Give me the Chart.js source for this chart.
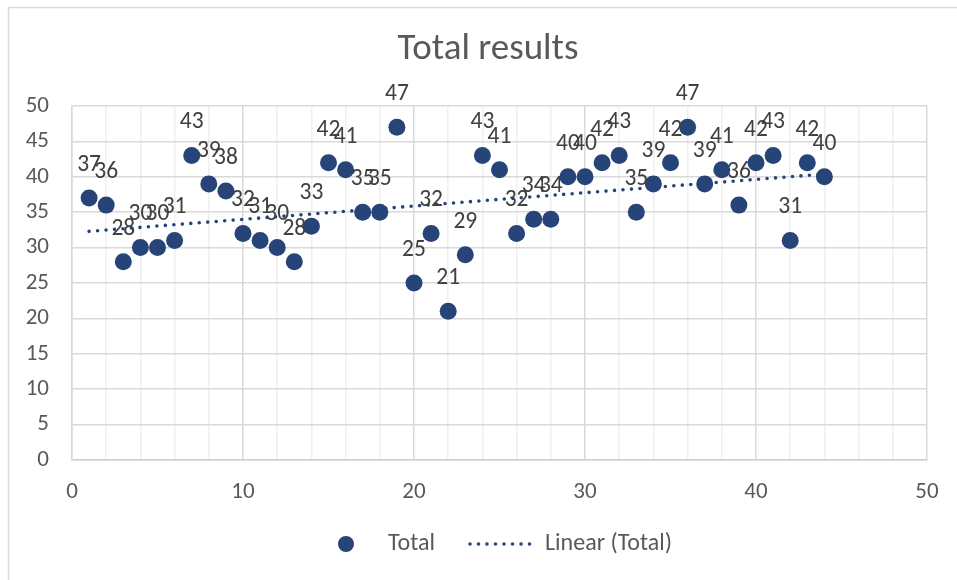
<!DOCTYPE html>
<html>
<head>
<meta charset="utf-8">
<title>Total results</title>
<script src="https://cdn.jsdelivr.net/npm/chart.js@4.4.1/dist/chart.umd.min.js"></script>
<style>
  html, body { margin: 0; padding: 0; background: #fff; }
  #wrap { position: relative; width: 957px; height: 580px; }
</style>
</head>
<body>
<div id="wrap"><canvas id="resultsChart" width="957" height="580"></canvas></div>
<script>
// data
var students = [1, 2, 3, 4, 5, 6, 7, 8, 9, 10, 11, 12, 13, 14, 15, 16, 17, 18, 19, 20, 21, 22,
                23, 24, 25, 26, 27, 28, 29, 30, 31, 32, 33, 34, 35, 36, 37, 38, 39, 40, 41, 42, 43, 44];
var totals = [37, 36, 28, 30, 30, 31, 43, 39, 38, 32, 31, 30, 28, 33, 42, 41, 35, 35, 47, 25, 32, 21,
              29, 43, 41, 32, 34, 34, 40, 40, 42, 43, 35, 39, 42, 47, 39, 41, 36, 42, 43, 31, 42, 40];
var xTicks = [0, 10, 20, 30, 40, 50];
var yTicks = [0, 5, 10, 15, 20, 25, 30, 35, 40, 45, 50];

var FONT = 'Carlito, Lato, "Open Sans", sans-serif';
var BLUE = '#264478';
var GREY_TEXT = '#595959';

// least squares trend line, like Excel's "Linear" trendline
function linearFit(xs, ys) {
    var n = xs.length, sx = 0, sy = 0, sxy = 0, sxx = 0;
    for (var i = 0; i < n; i++) {
        sx += xs[i]; sy += ys[i]; sxy += xs[i] * ys[i]; sxx += xs[i] * xs[i];
    }
    var slope = (n * sxy - sx * sy) / (n * sxx - sx * sx);
    return { slope: slope, icpt: (sy - slope * sx) / n };
}
var fit = linearFit(students, totals);
var xFirst = students[0], xLast = students[students.length - 1];
var trendPoints = [
    { x: xFirst, y: fit.icpt + fit.slope * xFirst },
    { x: xLast, y: fit.icpt + fit.slope * xLast }
];

var scatterPoints = students.map(function(s, i) { return { x: s, y: totals[i] }; });

// frame, title, data labels and legend the way Excel draws them
var excelBits = {
    id: 'excelBits',
    beforeDraw: function(chart) {
        var c = chart.ctx;
        c.save();
        c.fillStyle = '#fff';
        c.fillRect(0, 0, chart.width, chart.height);
        c.strokeStyle = '#d9d9d9';
        c.lineWidth = 1.5;
        c.strokeRect(8.5, 7.5, chart.width + 10, chart.height + 10);
        c.restore();
    },
    afterDatasetsDraw: function(chart) {
        var c = chart.ctx;
        var meta = chart.getDatasetMeta(0);
        c.save();
        c.font = '23.5px ' + FONT;
        c.fillStyle = '#404040';
        c.textAlign = 'center';
        c.textBaseline = 'middle';
        meta.data.forEach(function(pt, i) {
            c.fillText(String(totals[i]), pt.x, pt.y - 33);
        });
        c.restore();
    },
    afterDraw: function(chart) {
        var c = chart.ctx;
        c.save();
        // title
        c.font = '37px ' + FONT;
        c.fillStyle = GREY_TEXT;
        c.textAlign = 'center';
        c.textBaseline = 'middle';
        c.fillText('Total results', 488, 50);

        // legend
        var ly = 544;
        c.fillStyle = BLUE;
        c.beginPath();
        c.arc(346, ly, 8, 0, Math.PI * 2);
        c.fill();
        c.setLineDash([0, 8.5]);
        c.lineCap = 'round';
        c.lineWidth = 3.6;
        c.strokeStyle = BLUE;
        c.beginPath();
        c.moveTo(470, ly);
        c.lineTo(538, ly);
        c.stroke();
        c.setLineDash([]);
        c.font = '24px ' + FONT;
        c.fillStyle = GREY_TEXT;
        c.textAlign = 'left';
        c.fillText('Total', 388, ly);
        c.fillText('Linear (Total)', 545, ly);
        c.restore();
    }
};

var ctx = document.getElementById('resultsChart').getContext('2d');
var resultsChart = new Chart(ctx, {
    type: 'scatter',
    data: {
        datasets: [{
            label: 'Total',
            data: scatterPoints,
            backgroundColor: BLUE,
            borderColor: BLUE,
            pointRadius: 8.5,
            pointHoverRadius: 8.5,
            borderWidth: 0,
            order: 1
        }, {
            label: 'Linear (Total)',
            type: 'line',
            data: trendPoints,
            borderColor: BLUE,
            borderWidth: 3.6,
            borderDash: [0, 8.5],
            borderCapStyle: 'round',
            pointRadius: 0,
            fill: false,
            order: 2
        }]
    },
    options: {
        responsive: false,
        animation: false,
        layout: { padding: { top: 106, left: 0, right: 30, bottom: 80 } },
        plugins: {
            legend: { display: false },
            title: { display: false },
            tooltip: { enabled: false }
        },
        scales: {
            x: {
                type: 'linear',
                min: 0,
                max: 50,
                afterFit: function(scale) { scale.height = 40; },
                afterBuildTicks: function(scale) {
                    // minor lines every 2, labels on the majors
                    var t = [];
                    for (var v = 0; v <= 50; v += 2) t.push({ value: v });
                    xTicks.forEach(function(v) { if (v % 2) t.push({ value: v }); });
                    scale.ticks = t;
                },
                ticks: {
                    autoSkip: false,
                    maxRotation: 0,
                    padding: 18,
                    color: GREY_TEXT,
                    font: { family: FONT, size: 23 },
                    callback: function(v) { return xTicks.indexOf(v) >= 0 ? String(v) : ''; }
                },
                grid: {
                    drawTicks: false,
                    lineWidth: 1.5,
                    color: function(c) {
                        return c.tick && xTicks.indexOf(c.tick.value) >= 0 ? '#d9d9d9' : '#efefef';
                    }
                },
                border: { display: true, color: '#d0d0d0', width: 1.5 }
            },
            y: {
                min: 0,
                max: 50,
                afterFit: function(scale) { scale.width = 72; },
                afterBuildTicks: function(scale) {
                    scale.ticks = yTicks.map(function(v) { return { value: v }; });
                },
                ticks: {
                    padding: 23,
                    color: GREY_TEXT,
                    font: { family: FONT, size: 23 }
                },
                grid: { drawTicks: false, color: '#d9d9d9', lineWidth: 1.5 },
                border: { display: true, color: '#d9d9d9', width: 1.5 }
            }
        }
    },
    plugins: [excelBits]
});
</script>
</body>
</html>
